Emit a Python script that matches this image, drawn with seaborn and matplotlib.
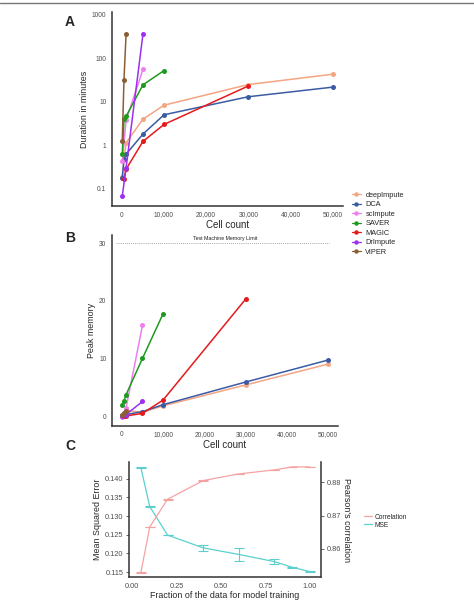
import matplotlib
matplotlib.use("Agg")
import matplotlib.pyplot as plt
import seaborn as sns
import pandas as pd
import numpy as np
from matplotlib.lines import Line2D

# ---- panel A/B data: imputation benchmark ----
tools = ['deepImpute', 'DCA', 'scImpute', 'SAVER', 'MAGIC', 'DrImpute', 'VIPER']
colors = ['#F4A582', '#3B5BA5', '#EE7FEE', '#1F9A1F', '#E41A1C', '#9B30F0', '#8B5E34']

deepimpute_cells = [100, 500, 1000, 5000, 10000, 30000, 50000]
deepimpute_minutes = [0.19, 0.45, 1.13, 3.96, 8.3, 24.8, 42.8]
deepimpute_memory = [0.3, 0.6, 1.1, 0.8, 1.9, 5.5, 9.1]

dca_cells = [100, 500, 1000, 5000, 10000, 30000, 50000]
dca_minutes = [0.18, 0.47, 0.62, 1.8, 5.0, 13.0, 21.6]
dca_memory = [0.2, 0.3, 0.4, 0.9, 2.1, 6.0, 9.8]

scimpute_cells = [100, 1000, 5000]
scimpute_minutes = [0.43, 3.75, 55.0]
scimpute_memory = [0.05, 1.5, 15.8]

saver_cells = [100, 500, 1000, 5000, 10000]
saver_minutes = [0.62, 3.9, 4.6, 24.4, 52.0]
saver_memory = [2.0, 2.7, 3.8, 10.1, 17.8]

magic_cells = [500, 1000, 5000, 10000, 30000]
magic_minutes = [0.17, 0.28, 1.22, 3.0, 23.0]
magic_memory = [0.1, 0.15, 0.6, 2.9, 20.3]

drimpute_cells = [100, 1000, 5000]
drimpute_minutes = [0.068, 0.3, 356.0]
drimpute_memory = [0.1, 0.4, 2.65]

viper_cells = [100, 500, 1000]
viper_minutes = [1.25, 32.0, 356.0]
viper_memory = [0.4, 0.7, 1.0]

memory_limit = 30

# ---- panel C data: training fraction ----
fraction = [0.05, 0.1, 0.2, 0.4, 0.6, 0.8, 0.9, 1.0]
mse = [0.14297, 0.13255, 0.12492, 0.1215, 0.11974, 0.11782, 0.11632, 0.11514]
mse_err = [0.0001, 0.0001, 0.0001, 0.00087, 0.00176, 0.0006, 0.0001, 0.0001]
corr = [0.8529, 0.8666, 0.8749, 0.8805, 0.8825, 0.8837, 0.8846, 0.8846]
corr_err = [0.0001, 0.0001, 0.0001, 0.0001, 0.0001, 0.0001, 0.0001, 0.0001]

sns.set_style('white')
plt.rcParams['font.family'] = ['Liberation Sans', 'DejaVu Sans']

cells = [deepimpute_cells, dca_cells, scimpute_cells, saver_cells,
         magic_cells, drimpute_cells, viper_cells]
minutes = [deepimpute_minutes, dca_minutes, scimpute_minutes, saver_minutes,
           magic_minutes, drimpute_minutes, viper_minutes]
memory = [deepimpute_memory, dca_memory, scimpute_memory, saver_memory,
          magic_memory, drimpute_memory, viper_memory]

rows = []
for t, c, m, g in zip(tools, cells, minutes, memory):
    for ci, mi, gi in zip(c, m, g):
        rows.append({'tool': t, 'cells': ci, 'minutes': mi, 'memory': gi})
bench = pd.DataFrame(rows)
palette = dict(zip(tools, colors))

fig = plt.figure(figsize=(4.74, 6.04), dpi=100)
axA = fig.add_axes([0.236, 0.659, 0.487, 0.321])
axB = fig.add_axes([0.236, 0.295, 0.477, 0.316])
axC = fig.add_axes([0.272, 0.0447, 0.405, 0.190])

spine_col = '#333333'
tick_col = '#4d4d4d'


def style_axis(ax, size=4.8):
    sns.despine(ax=ax)
    for s in ['left', 'bottom']:
        ax.spines[s].set_color(spine_col)
        ax.spines[s].set_linewidth(1.1)
    ax.tick_params(axis='both', length=2.5, width=0.6, color=tick_col,
                   labelcolor=tick_col, labelsize=size, pad=1.5)
    ax.grid(False)


# A: duration
sns.lineplot(data=bench, x='cells', y='minutes', hue='tool', hue_order=tools,
             palette=palette, marker='o', markersize=3.6, markeredgewidth=0,
             linewidth=1.1, sort=False, legend=False, ax=axA)
axA.set_yscale('log')
axA.set_ylim(0.04, 1150)
axA.set_xlim(-2370, 52370)
axA.set_yticks([0.1, 1, 10, 100, 1000])
axA.set_yticklabels(['0.1', '1', '10', '100', '1000'])
axA.minorticks_off()
axA.set_xticks([0, 10000, 20000, 30000, 40000, 50000])
axA.set_xticklabels(['0', '10,000', '20,000', '30,000', '40,000', '50,000'])
axA.set_xlabel('Cell count', fontsize=7, labelpad=1)
axA.set_ylabel('Duration in minutes', fontsize=6.4, labelpad=2)
style_axis(axA)

# B: memory
sns.lineplot(data=bench, x='cells', y='memory', hue='tool', hue_order=tools,
             palette=palette, marker='o', markersize=3.6, markeredgewidth=0,
             linewidth=1.1, sort=False, legend=False, ax=axB)
axB.axhline(memory_limit, xmin=0.02, xmax=0.96, color='#888888',
            linestyle=(0, (1, 1.5)), linewidth=0.6)
axB.text(25000, memory_limit + 0.35, 'Test Machine Memory Limit', fontsize=3.8,
         ha='center', va='bottom', color='#222222')
axB.set_ylim(-1.55, 31.4)
axB.set_xlim(-2430, 52430)
axB.set_yticks([0, 10, 20, 30])
axB.set_xticks([0, 10000, 20000, 30000, 40000, 50000])
axB.set_xticklabels(['0', '10,000', '20,000', '30,000', '40,000', '50,000'])
axB.set_xlabel('Cell count', fontsize=7, labelpad=1)
axB.set_ylabel('Peak memory', fontsize=6.4, labelpad=2)
style_axis(axB)

# shared legend for A/B
handles = [Line2D([0], [0], color=c, marker='o', markersize=3.2,
                  markeredgewidth=0, linewidth=0.9) for c in colors]
fig.legend(handles, tools, loc='upper left', bbox_to_anchor=(0.735, 0.689),
           frameon=False, fontsize=5.3, handlelength=1.2, handletextpad=0.6,
           labelspacing=0.32, borderpad=0)

# C: training fraction
frac_df = pd.DataFrame({'fraction': fraction, 'mse': mse, 'corr': corr})
mse_col = '#5CCFCF'
corr_col = '#F4A3A3'
sns.lineplot(data=frac_df, x='fraction', y='mse', color=mse_col, linewidth=0.9, ax=axC)
axC.errorbar(fraction, mse, yerr=mse_err, fmt='none', ecolor=mse_col,
             elinewidth=0.8, capsize=3.3, capthick=0.8)
axC.set_xlim(-0.017, 1.062)
axC.set_ylim(0.1137, 0.1444)
axC.set_yticks([0.115, 0.120, 0.125, 0.130, 0.135, 0.140])
axC.set_yticklabels(['0.115', '0.120', '0.125', '0.130', '0.135', '0.140'])
axC.set_xticks([0, 0.25, 0.5, 0.75, 1.0])
axC.set_xticklabels(['0.00', '0.25', '0.50', '0.75', '1.00'])
axC.set_xlabel('Fraction of the data for model training', fontsize=6.4, labelpad=1)
axC.set_ylabel('Mean Squared Error', fontsize=6.4, labelpad=2)
style_axis(axC, size=5.3)

axC2 = axC.twinx()
sns.lineplot(data=frac_df, x='fraction', y='corr', color=corr_col, linewidth=0.9, ax=axC2)
axC2.errorbar(fraction, corr, yerr=corr_err, fmt='none', ecolor=corr_col,
              elinewidth=0.8, capsize=3.3, capthick=0.8)
axC2.set_ylim(0.8516, 0.8860)
axC2.set_yticks([0.86, 0.87, 0.88])
axC2.set_yticklabels(['0.86', '0.87', '0.88'])
axC2.set_ylabel("Pearson's correlation", fontsize=6.4, rotation=270, labelpad=7)
for s in ['top', 'left', 'bottom']:
    axC2.spines[s].set_visible(False)
axC2.spines['right'].set_color(spine_col)
axC2.spines['right'].set_linewidth(1.1)
axC2.tick_params(axis='y', length=2.5, width=0.6, color=tick_col,
                 labelcolor=tick_col, labelsize=5.3, pad=1.5)
axC2.grid(False)

c_handles = [Line2D([0], [0], color=corr_col, linewidth=0.9),
             Line2D([0], [0], color=mse_col, linewidth=0.9)]
fig.legend(c_handles, ['Correlation', 'MSE'], loc='upper left',
           bbox_to_anchor=(0.76, 0.155), frameon=False, fontsize=4.8,
           handlelength=1.2, handletextpad=0.5, labelspacing=0.15, borderpad=0)

# panel letters and top rule
fig.text(0.148, 0.963, 'A', fontsize=10, fontweight='bold', va='center', ha='center')
fig.text(0.148, 0.606, 'B', fontsize=10, fontweight='bold', va='center', ha='center')
fig.text(0.148, 0.261, 'C', fontsize=10, fontweight='bold', va='center', ha='center')
fig.add_artist(Line2D([0, 1], [0.9945, 0.9945], color='#777777', linewidth=1.0,
                      transform=fig.transFigure))

fig.savefig('out.png', dpi=100)
